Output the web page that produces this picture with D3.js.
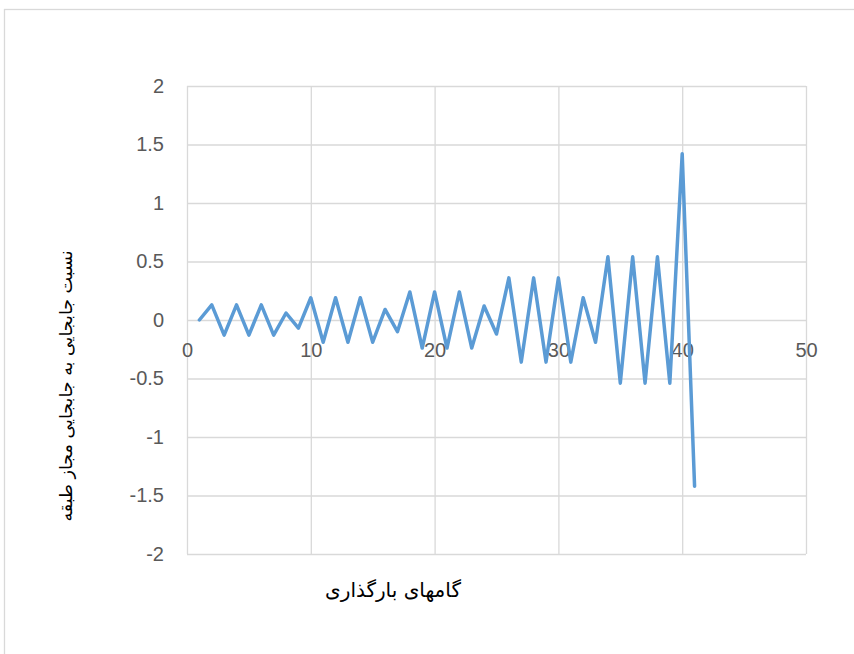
<!DOCTYPE html>
<html>
<head>
<meta charset="utf-8">
<script src="https://cdn.jsdelivr.net/npm/d3@7"></script>
<style>
  html, body { margin: 0; padding: 0; background: #fff; }
  svg { display: block; }
</style>
</head>
<body>
<svg id="chart" width="854" height="654"></svg>
<script>
// ---- data ----
const steps = [1,2,3,4,5,6,7,8,9,10,11,12,13,14,15,16,17,18,19,20,21,22,23,24,25,26,27,28,29,30,31,32,33,34,35,36,37,38,39,40,41];
const ratios = [0, 0.13, -0.13, 0.13, -0.13, 0.13, -0.13, 0.06, -0.07, 0.19, -0.19, 0.19, -0.19, 0.19, -0.19, 0.09, -0.10,
                0.24, -0.24, 0.24, -0.24, 0.24, -0.24, 0.12, -0.12, 0.36, -0.36, 0.36, -0.36, 0.36, -0.36, 0.19, -0.19,
                0.54, -0.54, 0.54, -0.54, 0.54, -0.54, 1.42, -1.42];
const xTicks = [0, 10, 20, 30, 40, 50];
const xTickLabels = ["0", "10", "20", "30", "40", "50"];
const yTicks = [-2, -1.5, -1, -0.5, 0, 0.5, 1, 1.5, 2];
const yTickLabels = ["-2", "-1.5", "-1", "-0.5", "0", "0.5", "1", "1.5", "2"];
const xTitle = "گامهای بارگذاری";
const yTitle = "نسبت جابجایی به جابجایی مجاز طبقه";

// ---- layout ----
const svg = d3.select("#chart");
const plot = { left: 187, right: 806, top: 86, bottom: 554 };
const x = d3.scaleLinear().domain([0, 50]).range([plot.left, plot.right]);
const y = d3.scaleLinear().domain([-2, 2]).range([plot.bottom, plot.top]);
const gridColor = "#d9d9d9";
const labelColor = "#595959";
const tickFont = "'Liberation Sans', Arial, sans-serif";

// outer chart border
svg.append("rect")
  .attr("x", 4.5).attr("y", 9.5)
  .attr("width", 900).attr("height", 700)
  .attr("fill", "none").attr("stroke", gridColor).attr("stroke-width", 1.3);

// horizontal gridlines
svg.append("g")
  .attr("transform", `translate(${plot.left},0)`)
  .call(d3.axisLeft(y).tickValues(yTicks).tickSize(-(plot.right - plot.left)).tickFormat(""))
  .call(g => g.select(".domain").remove())
  .call(g => g.selectAll("line").attr("stroke", gridColor).attr("stroke-width", 1.3));

// vertical gridlines
svg.append("g")
  .attr("transform", `translate(0,${plot.bottom})`)
  .call(d3.axisBottom(x).tickValues(xTicks).tickSize(-(plot.bottom - plot.top)).tickFormat(""))
  .call(g => g.select(".domain").remove())
  .call(g => g.selectAll("line").attr("stroke", gridColor).attr("stroke-width", 1.3));

// y tick labels
svg.append("g")
  .attr("transform", `translate(${plot.left},0)`)
  .call(d3.axisLeft(y).tickValues(yTicks).tickSize(0).tickPadding(23)
        .tickFormat((d, i) => yTickLabels[i]))
  .call(g => g.select(".domain").remove())
  .call(g => g.selectAll("text").attr("fill", labelColor)
        .style("font-family", tickFont).style("font-size", "20px"));

// x tick labels (axis crosses at y = 0)
svg.append("g")
  .attr("transform", `translate(0,${y(0)})`)
  .call(d3.axisBottom(x).tickValues(xTicks).tickSize(0).tickPadding(23)
        .tickFormat((d, i) => xTickLabels[i]))
  .call(g => g.select(".domain").remove())
  .call(g => g.selectAll("text").attr("fill", labelColor)
        .style("font-family", tickFont).style("font-size", "20px"));

// line
const line = d3.line().x((d, i) => x(steps[i])).y(d => y(d));
svg.append("path")
  .datum(ratios)
  .attr("d", line)
  .attr("fill", "none")
  .attr("stroke", "#5B9BD5")
  .attr("stroke-width", 3.5)
  .attr("stroke-linejoin", "round")
  .attr("stroke-linecap", "round");

// axis titles
svg.append("text")
  .attr("x", 393).attr("y", 591)
  .attr("text-anchor", "middle")
  .attr("dominant-baseline", "middle")
  .attr("direction", "rtl")
  .style("font-family", "'DejaVu Sans', sans-serif")
  .style("font-size", "20px")
  .attr("fill", "#000")
  .text(xTitle);

svg.append("text")
  .attr("transform", "translate(67,386) rotate(-90)")
  .attr("text-anchor", "middle")
  .attr("dominant-baseline", "middle")
  .attr("direction", "rtl")
  .style("font-family", "'DejaVu Sans', sans-serif")
  .style("font-size", "17.5px")
  .attr("fill", "#000")
  .text(yTitle);
</script>
</body>
</html>
